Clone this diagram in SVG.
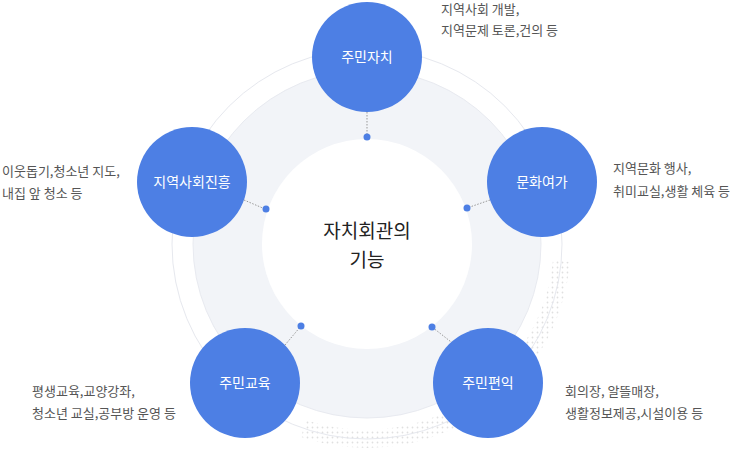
<svg xmlns="http://www.w3.org/2000/svg" width="734" height="457" viewBox="0 0 734 457">
<style>
.node{fill:#4d7fe4}
.nt{font-family:"Noto Sans CJK KR","Noto Sans",sans-serif;font-size:14px;fill:#fff;text-anchor:middle}
.desc{font-family:"Noto Sans CJK KR","Noto Sans",sans-serif;font-size:13px;fill:#555}
.dot{fill:#4d7fe4}
.con{stroke:#999;stroke-width:1;stroke-dasharray:1.5 1.5;fill:none}
</style>
<defs>
<pattern id="dp" width="5" height="5" patternUnits="userSpaceOnUse"><circle cx="2.5" cy="2.5" r="0.9" fill="#e0e0e0"/></pattern>
</defs>
<path d="M570,262 A204,204 0 0 1 301,437 L306,420 A188,188 0 0 0 553,260 Z" fill="url(#dp)"/>
<circle cx="367" cy="244" r="195" fill="none" stroke="#e6e8ee" stroke-width="1"/>
<circle cx="367" cy="244" r="174" fill="#f2f4f8" stroke="#e8eaf0"/>
<circle cx="367" cy="244" r="105" fill="#fff"/>
<g id="connectors">
<line class="con" x1="367" y1="112" x2="367" y2="137"/>
<line class="con" x1="490" y1="200" x2="467" y2="208"/>
<line class="con" x1="455" y1="345" x2="432" y2="327"/>
<line class="con" x1="285" y1="345" x2="301" y2="326"/>
<line class="con" x1="244" y1="200" x2="265" y2="209"/>
<circle class="dot" cx="367" cy="137" r="3.5"/>
<circle class="dot" cx="467" cy="208" r="3.5"/>
<circle class="dot" cx="432" cy="327" r="3.5"/>
<circle class="dot" cx="301" cy="326" r="3.5"/>
<circle class="dot" cx="266" cy="209" r="3.5"/>
</g>
<text x="367" y="238" font-family="Noto Sans CJK KR,sans-serif" font-size="19" fill="#222" text-anchor="middle">자치회관의</text>
<text x="367" y="267" font-family="Noto Sans CJK KR,sans-serif" font-size="19" fill="#222" text-anchor="middle">기능</text>
<g id="n1"><circle class="node" cx="367" cy="57" r="55"/><text class="nt" x="367" y="62">주민자치</text>
<text class="desc" x="441" y="14">지역사회 개발,</text><text class="desc" x="441" y="35">지역문제 토론,건의 등</text></g>
<g id="n2"><circle class="node" cx="542" cy="182" r="55"/><text class="nt" x="542" y="187">문화여가</text>
<text class="desc" x="613" y="173">지역문화 행사,</text><text class="desc" x="613" y="196">취미교실,생활 체육 등</text></g>
<g id="n3"><circle class="node" cx="488" cy="383" r="55"/><text class="nt" x="488" y="388">주민편익</text>
<text class="desc" x="565" y="396">회의장, 알뜰매장,</text><text class="desc" x="565" y="418">생활정보제공,시설이용 등</text></g>
<g id="n4"><circle class="node" cx="245" cy="383" r="55"/><text class="nt" x="245" y="388">주민교육</text>
<text class="desc" x="32" y="396">평생교육,교양강좌,</text><text class="desc" x="32" y="418">청소년 교실,공부방 운영 등</text></g>
<g id="n5"><circle class="node" cx="192" cy="182" r="55"/><text class="nt" x="192" y="187">지역사회진흥</text>
<text class="desc" x="2" y="176">이웃돕기,청소년 지도,</text><text class="desc" x="2" y="198">내집 앞 청소 등</text></g>
</svg>
